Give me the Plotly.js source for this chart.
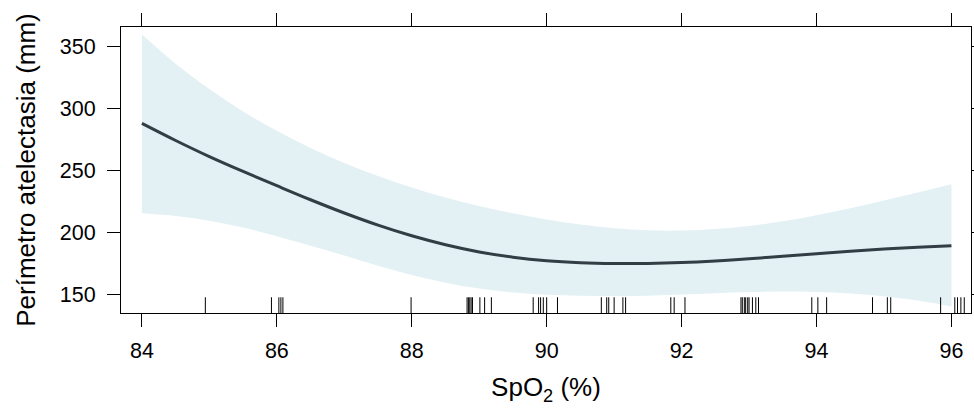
<!DOCTYPE html>
<html>
<head>
<meta charset="utf-8">
<script src="https://cdn.plot.ly/plotly-3.0.1.min.js"></script>
<style>
html,body{margin:0;padding:0;background:#fff;}
#chart{width:974px;height:410px;}
</style>
</head>
<body>
<div id="chart"></div>
<script>
// SpO2 values (%) at which the fitted curve and band are read
const spo2 = [84, 84.5, 85, 85.5, 86, 86.5, 87, 87.5, 88, 88.5, 89, 89.5, 90,
              90.5, 91, 91.5, 92, 92.5, 93, 93.5, 94, 94.5, 95, 95.5, 96];
// fitted perimeter (mm)
const fit = [288.3, 274.5, 261.5, 249.5, 238, 226.7, 216, 206.2, 197.6, 190.4, 184.6, 180.3, 177.4,
             175.8, 175.2, 175.3, 176, 177.3, 179.1, 181.1, 183.2, 185.2, 187, 188.4, 189.5];
// confidence band
const upper = [360, 336.5, 316, 298, 282.3, 268.5, 256.4, 245.8, 236.6, 228.6, 221.7, 215.8, 210.8,
               206.7, 203.7, 202, 201.8, 203, 205.5, 209.3, 214.2, 219.8, 226, 232.5, 239.2];
const lower = [215.8, 213.6, 209.8, 204.2, 197.3, 189.6, 181.8, 173.5, 166, 159.8, 155, 151.8, 150,
               149.2, 149, 149.3, 150.2, 151.3, 152.2, 152.6, 152.3, 151.1, 148.9, 145.4, 140.6];
// observed SpO2 values (rug)
const rugX = [84.94, 85.92, 86.03, 86.06, 86.09, 87.99,
              88.82, 88.84, 88.86, 88.88, 88.9, 89.01, 89.08, 89.18,
              89.8, 89.88, 89.91, 89.95, 90.0, 90.16,
              90.81, 90.89, 90.92, 91.0, 91.13, 91.17, 91.84, 91.89, 92.05,
              92.88, 92.9, 92.93, 92.95, 92.98, 93.0, 93.05, 93.1, 93.14,
              93.93, 94.02, 94.15, 94.83, 95.05, 95.1, 95.84,
              96.05, 96.09, 96.14, 96.19];
const xTicks = [84, 86, 88, 90, 92, 94, 96];
const yTicks = [150, 200, 250, 300, 350];

const FONT = 'Liberation Sans, Arial, Helvetica, sans-serif';

const traces = [
  {x: spo2, y: lower, type: 'scatter', mode: 'lines', line: {width: 0, shape: 'spline', color: 'rgba(0,0,0,0)'},
   hoverinfo: 'skip', showlegend: false},
  {x: spo2, y: upper, type: 'scatter', mode: 'lines', line: {width: 0, shape: 'spline', color: 'rgba(0,0,0,0)'},
   fill: 'tonexty', fillcolor: '#e3f1f5', hoverinfo: 'skip', showlegend: false},
  {x: spo2, y: fit, type: 'scatter', mode: 'lines', line: {width: 3, shape: 'spline', color: '#323d44'},
   showlegend: false}
];

const shapes = rugX.map(v => ({
  type: 'line', xref: 'x', yref: 'y domain', x0: v, x1: v, y0: 0, y1: 0.055,
  line: {color: '#000', width: 1}
}));

const axisCommon = {
  showgrid: false, zeroline: false, showline: true, linecolor: '#000', linewidth: 1,
  mirror: 'allticks', ticks: 'outside', ticklen: 13, tickwidth: 1, tickcolor: '#000',
  tickfont: {family: FONT, size: 21.5, color: '#000'}
};

const layout = {
  width: 974, height: 410,
  margin: {l: 121, r: 3, t: 27, b: 97},
  paper_bgcolor: '#fff', plot_bgcolor: '#fff',
  font: {family: FONT, color: '#000'},
  showlegend: false,
  xaxis: Object.assign({}, axisCommon, {
    range: [83.69, 96.29], tickvals: xTicks, ticktext: xTicks.map(String),
    ticklabelstandoff: 5,
    title: {text: 'SpO<sub>2</sub> (%)', font: {family: FONT, size: 26, color: '#000'}, standoff: 16}
  }),
  yaxis: Object.assign({}, axisCommon, {
    range: [135.3, 366.1], tickvals: yTicks, ticktext: yTicks.map(String),
    ticklabelstandoff: 7,
    title: {text: 'Perímetro atelectasia (mm)', font: {family: FONT, size: 26, color: '#000'}, standoff: 16}
  }),
  shapes: shapes
};

Plotly.newPlot('chart', traces, layout, {staticPlot: true, displayModeBar: false});
</script>
</body>
</html>
